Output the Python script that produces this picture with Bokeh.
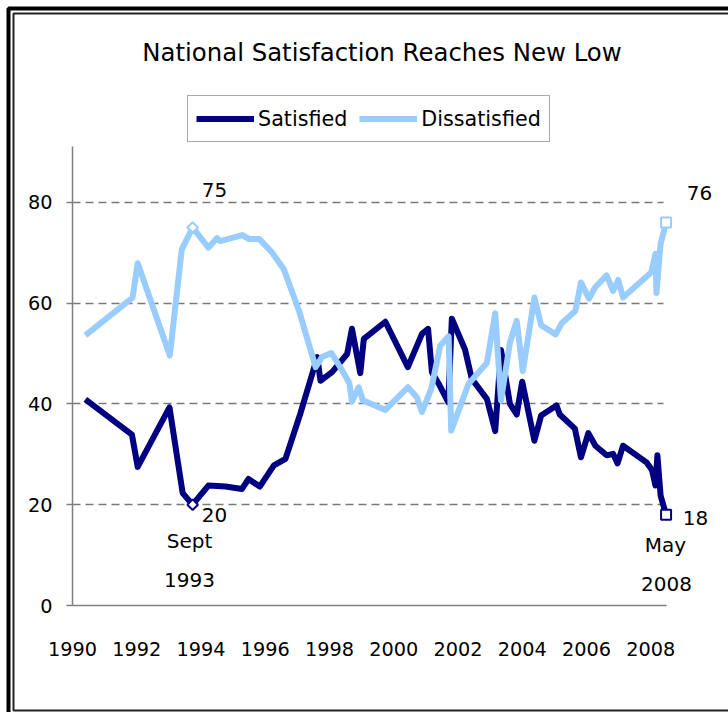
import numpy as np
from bokeh.plotting import figure
from bokeh.models import (ColumnDataSource, Range1d, FixedTicker, Legend, LegendItem,
                          Label, BoxAnnotation, LinearAxis, Grid)
from bokeh.embed import file_html
from bokeh.resources import INLINE

# ---------------- data ----------------
sat_years = [1990.40, 1991.85, 1992.03, 1993.02, 1993.43, 1993.74, 1994.23, 1994.77,
             1995.27, 1995.48, 1995.83, 1996.27, 1996.63, 1997.10, 1997.62, 1997.72,
             1998.08, 1998.55, 1998.70, 1998.96, 1999.07, 1999.74, 2000.44, 2000.88,
             2001.07, 2001.19, 2001.40, 2001.70, 2001.81, 2002.22, 2002.43, 2002.90,
             2003.16, 2003.34, 2003.62, 2003.83, 2004.00, 2004.38, 2004.59, 2005.07,
             2005.17, 2005.64, 2005.83, 2006.06, 2006.28, 2006.63, 2006.83, 2006.97,
             2007.14, 2007.87, 2008.04, 2008.15, 2008.21, 2008.31, 2008.48]
sat_values = [40.9, 33.9, 27.5, 39.3, 22.3, 20.0, 23.8, 23.6,
              23.1, 25.1, 23.6, 27.8, 29.1, 38.2, 49.3, 44.6,
              46.3, 49.9, 54.9, 46.1, 52.9, 56.3, 47.3, 53.9,
              54.9, 46.3, 44.0, 40.3, 56.9, 50.8, 45.0, 41.0,
              34.6, 50.7, 40.0, 37.9, 44.4, 32.7, 37.7, 39.7,
              37.9, 35.1, 29.4, 34.2, 31.7, 29.8, 30.1, 28.2,
              31.7, 28.4, 26.9, 23.8, 29.8, 21.8, 18.0]

dis_years = [1990.40, 1991.87, 1992.03, 1993.03, 1993.40, 1993.74, 1994.23, 1994.50,
             1994.60, 1995.29, 1995.50, 1995.82, 1996.22, 1996.58, 1997.05, 1997.57,
             1997.77, 1998.06, 1998.40, 1998.62, 1998.70, 1998.91, 1999.04, 1999.74,
             2000.44, 2000.72, 2000.88, 2001.17, 2001.45, 2001.71, 2001.79, 2002.33,
             2002.90, 2003.16, 2003.34, 2003.62, 2003.83, 2004.02, 2004.38, 2004.59,
             2005.04, 2005.23, 2005.66, 2005.83, 2006.08, 2006.28, 2006.63, 2006.83,
             2006.99, 2007.14, 2008.02, 2008.15, 2008.18, 2008.31, 2008.48]
dis_values = [53.6, 61.1, 67.9, 49.6, 70.6, 75.0, 71.0, 72.9,
              72.3, 73.5, 72.7, 72.7, 70.0, 66.7, 58.5, 47.3,
              49.3, 50.1, 46.6, 44.1, 40.5, 43.3, 40.7, 38.8,
              43.3, 41.3, 38.4, 43.0, 51.6, 53.4, 34.7, 44.0,
              48.1, 58.0, 40.7, 52.2, 56.5, 46.5, 61.1, 55.6,
              53.8, 56.0, 58.5, 64.1, 60.9, 63.2, 65.5, 62.4,
              64.6, 61.1, 66.1, 69.8, 62.0, 71.8, 76.0]

x_ticks = [1990, 1992, 1994, 1996, 1998, 2000, 2002, 2004, 2006, 2008]
y_ticks = [0, 20, 40, 60, 80]

title_text = "National Satisfaction Reaches New Low"
series_names = ["Satisfied", "Dissatisfied"]
low_labels = ["Sept", "1993"]
last_labels = ["May", "2008"]
sat_color = "#000080"
dis_color = "#99CCFF"
FONT = "DejaVu Sans"

# ---------------- geometry (pixels) ----------------
W, H = 728, 712
PX_PER_YEAR = 32.12
PX_PER_UNIT = 5.04
AXIS_X_PX = 72     # y axis position
AXIS_Y_PX = 605    # x axis position

x_start = x_ticks[0] - AXIS_X_PX / PX_PER_YEAR
x_end = x_start + W / PX_PER_YEAR
y_end = AXIS_Y_PX / PX_PER_UNIT
y_start = y_end - H / PX_PER_UNIT


def dx(px):   # canvas x pixel -> data x
    return x_start + px / PX_PER_YEAR


def dy(py):   # canvas y pixel (from top) -> data y
    return y_end - py / PX_PER_UNIT


x_axis_end = 2008.49
y_axis_top = 91

p = figure(width=W, height=H, output_backend="svg", toolbar_location=None,
           x_range=Range1d(x_start, x_end), y_range=Range1d(y_start, y_end),
           x_axis_location=None, y_axis_location=None, title_location=None,
           min_border=0, min_border_left=0, min_border_right=0,
           min_border_top=0, min_border_bottom=0)
p.outline_line_color = None
p.background_fill_color = "white"
p.border_fill_color = "white"
p.xgrid.visible = False
p.ygrid.visible = False

# axes (fixed at the data origin)
xaxis = LinearAxis(fixed_location=0, bounds=(x_ticks[0], x_axis_end),
                   ticker=FixedTicker(ticks=x_ticks))
yaxis = LinearAxis(fixed_location=x_ticks[0], bounds=(0, y_axis_top),
                   ticker=FixedTicker(ticks=y_ticks))
for ax in (xaxis, yaxis):
    ax.axis_line_color = "#7f7f7f"
    ax.axis_line_width = 1.5
    ax.minor_tick_line_color = None
    ax.major_label_text_font = FONT
    ax.major_label_text_font_size = "19.3px"
    ax.major_label_text_color = "black"
xaxis.major_tick_line_color = None
xaxis.major_label_standoff = 30
yaxis.major_tick_line_color = "#7f7f7f"
yaxis.major_tick_line_width = 1.5
yaxis.major_tick_in = 0
yaxis.major_tick_out = 6
yaxis.major_label_standoff = 14
p.add_layout(xaxis, "below")
p.add_layout(yaxis, "left")

# horizontal dashed gridlines
grid_ticks = y_ticks[1:]
if "cross_bounds" in Grid.properties():
    g = Grid(dimension=1, ticker=FixedTicker(ticks=grid_ticks),
             cross_bounds=(x_ticks[0], 2008.4))
    g.grid_line_color = "#7a7a7a"
    g.grid_line_width = 1.5
    g.grid_line_dash = "8 5"
    p.add_layout(g)
else:
    p.segment(x0=[x_ticks[0]] * len(grid_ticks), x1=[2008.4] * len(grid_ticks),
              y0=grid_ticks, y1=grid_ticks, line_color="#7a7a7a", line_width=1.5,
              line_dash="8 5")

# lines
sat_src = ColumnDataSource(dict(x=sat_years, y=sat_values))
dis_src = ColumnDataSource(dict(x=dis_years, y=dis_values))
r_sat = p.line("x", "y", source=sat_src, line_color=sat_color, line_width=6,
               line_join="round")
r_dis = p.line("x", "y", source=dis_src, line_color=dis_color, line_width=6,
               line_join="round")

# highlighted points: Sept 1993 (diamonds) and May 2008 (squares)
i_low = sat_values.index(min(sat_values[:10]))
p.scatter([sat_years[i_low]], [sat_values[i_low]], marker="square", angle=np.pi / 4,
          size=7.5, fill_color="white", line_color=sat_color, line_width=2)
p.scatter([dis_years[i_low]], [dis_values[i_low]], marker="square", angle=np.pi / 4,
          size=7.5, fill_color="white", line_color=dis_color, line_width=2)
p.scatter([sat_years[-1]], [sat_values[-1]], marker="square", size=10,
          fill_color="white", line_color=sat_color, line_width=2)
p.scatter([dis_years[-1]], [dis_values[-1]], marker="square", size=10,
          fill_color="white", line_color=dis_color, line_width=2)

# legend
legend = Legend(items=[LegendItem(label=series_names[0], renderers=[r_sat]),
                       LegendItem(label=series_names[1], renderers=[r_dis])],
                orientation="horizontal", location=(187, H - 142),
                label_text_font=FONT, label_text_font_size="20.7px",
                label_text_color="black",
                glyph_width=58, glyph_height=29, label_height=29,
                label_standoff=4, spacing=12, padding=8, margin=0,
                border_line_color="#555555", border_line_width=1,
                background_fill_color="white", background_fill_alpha=1)
p.add_layout(legend, "center")


# annotation texts
def add_label(x, y, text, size="20px", align="center"):
    p.add_layout(Label(x=x, y=y, text=text, text_align=align, text_baseline="middle",
                       text_font=FONT, text_font_size=size, text_color="black"))


add_label(dx(381.5), dy(52), title_text, size="24.4px")
add_label(dx(214), dy(189), f"{dis_values[i_low]:.0f}")
add_label(dx(214), dy(514), f"{sat_values[i_low]:.0f}")
add_label(dx(189), dy(540), low_labels[0])
add_label(dx(189), dy(579), low_labels[1])
add_label(dx(699), dy(192), f"{dis_values[-1]:.0f}")
add_label(dx(695), dy(517), f"{sat_values[-1]:.0f}")
add_label(dx(665), dy(544), last_labels[0])
add_label(dx(666), dy(583), last_labels[1])

# double frame around the whole chart
p.add_layout(BoxAnnotation(left=dx(8), right=dx(W + 20), top=dy(8), bottom=dy(H + 20),
                           fill_alpha=0, line_color="black", line_alpha=1,
                           line_width=4))
p.add_layout(BoxAnnotation(left=dx(13), right=dx(W + 20), top=dy(13), bottom=dy(710),
                           fill_alpha=0, line_color="#222222", line_alpha=1,
                           line_width=2))

open("out.html", "w").write(file_html(p, INLINE))
